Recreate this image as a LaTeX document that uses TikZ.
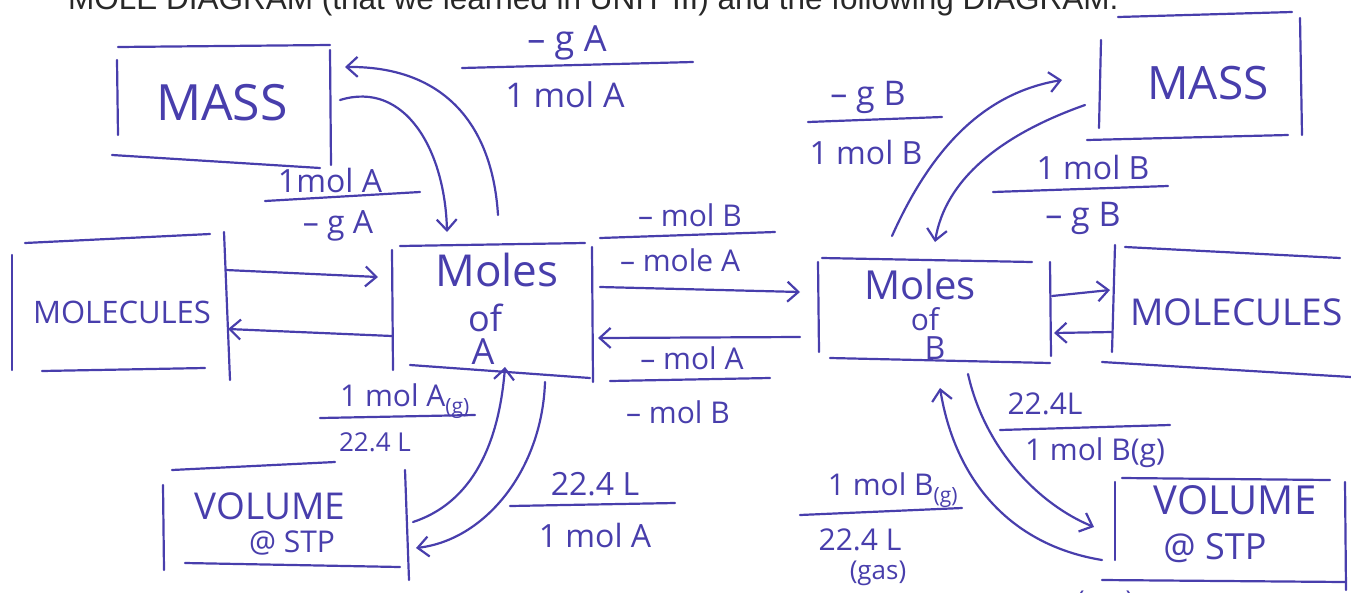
\documentclass[tikz,border=0pt]{standalone}
\usepackage{fontspec}
\setmainfont{Open Sans}
\newfontfamily\headfont{Liberation Sans}
\usetikzlibrary{arrows.meta}
\definecolor{ink}{RGB}{72,62,172}
\definecolor{print}{RGB}{40,40,40}
\begin{document}
\begin{tikzpicture}[x=1pt,y=-1pt,
  inkline/.style={draw=ink,line width=2.2pt,line cap=round},
  arr/.style={inkline,-{Straight Barb[length=11pt,width=20pt,line width=2.2pt]}},
  hw/.style={text=ink,inner sep=0pt,font=\fontsize{#1}{#1}\selectfont},
  hw/.default=34]
\useasboundingbox (0,0) rectangle (1351,592);

% header (cut off at the top)
\node[anchor=base west,inner sep=0pt,text=print,font=\headfont\fontsize{31.5}{31.5}\selectfont] (head) at (68,9)
  {MOLE DIAGRAM (that we learned in UNIT III) and the following DIAGRAM.};

% ---------------- boxes (hand drawn lines) ----------------
% MASS left
\draw[inkline] (118,47) -- (330,45);
\draw[inkline] (117,60) -- (118,135);
\draw[inkline] (112,155) -- (320,168);
\draw[inkline] (330,50) -- (331,165);
\node[hw=50] (massA) at (222,103) {MASS};

% Moles of A
\draw[inkline] (400,246) -- (585,243);
\draw[inkline] (392,250) -- (393,370);
\draw[inkline] (592,247) -- (593,382);
\draw[inkline] (410,365) -- (590,378);
\node[hw=44] (molesA) at (497,270) {Moles};
\node[hw=36] (ofA) at (485,318) {of};
\node[hw=36] (lblA) at (483,352) {A};

% MOLECULES left
\draw[inkline] (25,243) -- (210,234);
\draw[inkline] (12,255) -- (12,370);
\draw[inkline] (224,232) -- (230,380);
\draw[inkline] (42,371) -- (205,368);
\node[hw=31] (molcA) at (122,312) {MOLECULES};

% Moles of B
\draw[inkline] (822,258) -- (1032,262);
\draw[inkline] (818,262) -- (819,352);
\draw[inkline] (1050,262) -- (1051,356);
\draw[inkline] (830,358) -- (1050,363);
\node[hw=40] (molesB) at (920,284) {Moles};
\node[hw=30] (ofB) at (925,319) {of};
\node[hw=32] (lblB) at (935,348) {B};

% MASS right
\draw[inkline] (1118,17) -- (1292,12);
\draw[inkline] (1101,40) -- (1099,128);
\draw[inkline] (1300,18) -- (1302,135);
\draw[inkline] (1087,140) -- (1288,135);
\node[hw=46] (massB) at (1208,83) {MASS};

% MOLECULES right
\draw[inkline] (1125,247) -- (1340,258);
\draw[inkline] (1115,245) -- (1112,352);
\draw[inkline] (1102,362) -- (1351,377);
\node[hw=37,anchor=west] (molcB) at (1130,312) {MOLECULES};

% VOLUME A
\draw[inkline] (172,470) -- (335,462);
\draw[inkline] (163,485) -- (164,570);
\draw[inkline] (405,470) -- (409,580);
\draw[inkline] (185,563) -- (400,567);
\node[hw=37] (volA) at (270,506) {VOLUME};
\node[hw=30] (stpA) at (292,543) {@ STP};

% VOLUME B
\draw[inkline] (1122,478) -- (1330,480);
\draw[inkline] (1115,482) -- (1115,560);
\draw[inkline] (1345,482) -- (1346,590);
\draw[inkline] (1102,580) -- (1345,582);
\node[hw=40] (volB) at (1235,500) {VOLUME};
\node[hw=36] (stpB) at (1215,548) {@ STP};

% ---------------- connector ends ----------------
\coordinate (mAin)  at (345,67);
\coordinate (mAout) at (340,100);
\coordinate (aTop1) at (498,215);
\coordinate (aTop2) at (447,232);
\coordinate (mBin)  at (1062,80);
\coordinate (mBout) at (1085,105);
\coordinate (bTop1) at (892,236);
\coordinate (bTop2) at (935,242);
\coordinate (aBot1) at (505,367);
\coordinate (aBot2) at (545,382);
\coordinate (vAout) at (413,522);
\coordinate (vAin)  at (416,548);
\coordinate (bBot1) at (968,374);
\coordinate (bBot2) at (940,388);
\coordinate (vBin)  at (1094,527);
\coordinate (vBout) at (1102,560);

% ---------------- connectors ----------------
\draw[arr] (aTop1) .. controls (492,120) and (440,66) .. (mAin);
\draw[arr] (mAout) .. controls (405,80) and (445,150) .. (aTop2);
\draw[arr] (bTop1) .. controls (935,140) and (990,92) .. (mBin);
\draw[arr] (mBout) .. controls (1000,135) and (945,180) .. (bTop2);
\draw[arr] (vAout) .. controls (480,500) and (500,430) .. (aBot1);
\draw[arr] (aBot2) .. controls (542,470) and (485,540) .. (vAin);
\draw[arr] (bBot1) .. controls (985,450) and (1040,505) .. (vBin);
\draw[arr] (vBout) .. controls (1010,545) and (955,480) .. (bBot2);

\draw[arr] (226,270) -- (378,277);
\draw[arr] (392,336) -- (228,329);
\draw[arr] (600,287) -- (800,292);
\draw[arr] (800,337) -- (598,338);
\draw[arr] (1052,296) -- (1110,290);
\draw[arr] (1112,332) -- (1054,333);

% ---------------- conversion labels ----------------
\node[hw=36] (gA1) at (567,43) {– g A};
\draw[inkline] (462,68) -- (693,62);
\node[hw=34] (molA1) at (565,95) {1 mol A};

\node[hw=32] (molA2) at (330,180) {1mol A};
\draw[inkline] (265,201) -- (420,192);
\node[hw=32] (gA2) at (338,226) {– g A};

\node[hw=34] (gB1) at (868,97) {– g B};
\draw[inkline] (808,122) -- (942,117);
\node[hw=32] (molB1) at (866,152) {1 mol B};

\node[hw=32] (molB2) at (1093,167) {1 mol B};
\draw[inkline] (993,192) -- (1168,186);
\node[hw=34] (gB2) at (1083,218) {– g B};

\node[hw=30] (mBa) at (690,215) {– mol B};
\draw[inkline] (600,238) -- (775,232);
\node[hw=30] (mAa) at (680,260) {– mole A};

\node[hw=30] (mAb) at (692,358) {– mol A};
\draw[inkline] (610,381) -- (770,378);
\node[hw=30] (mBb) at (678,412) {– mol B};

\node[hw=30] (vmolA) at (405,401) {1 mol A\textsubscript{(g)}};
\draw[inkline] (320,418) -- (475,415);
\node[hw=26] (vLA) at (375,442) {22.4 L};

\node[hw=32] (vLA2) at (595,484) {22.4 L};
\draw[inkline] (510,506) -- (675,503);
\node[hw=32] (vmolA2) at (595,535) {1 mol A};

\node[hw=30] (vLB) at (1045,404) {22.4L};
\draw[inkline] (1000,430) -- (1170,425);
\node[hw=30] (vmolB) at (1095,453) {1 mol B(g)};

\node[hw=30] (vmolB2) at (893,490) {1 mol B\textsubscript{(g)}};
\draw[inkline] (800,515) -- (962,508);
\node[hw=30] (vLB2) at (860,540) {22.4 L};
\node[hw=26] (gasB) at (878,573) {(gas)};
\node[hw=26] (gasB2) at (1105,603) {(gas)};
\end{tikzpicture}
\end{document}
